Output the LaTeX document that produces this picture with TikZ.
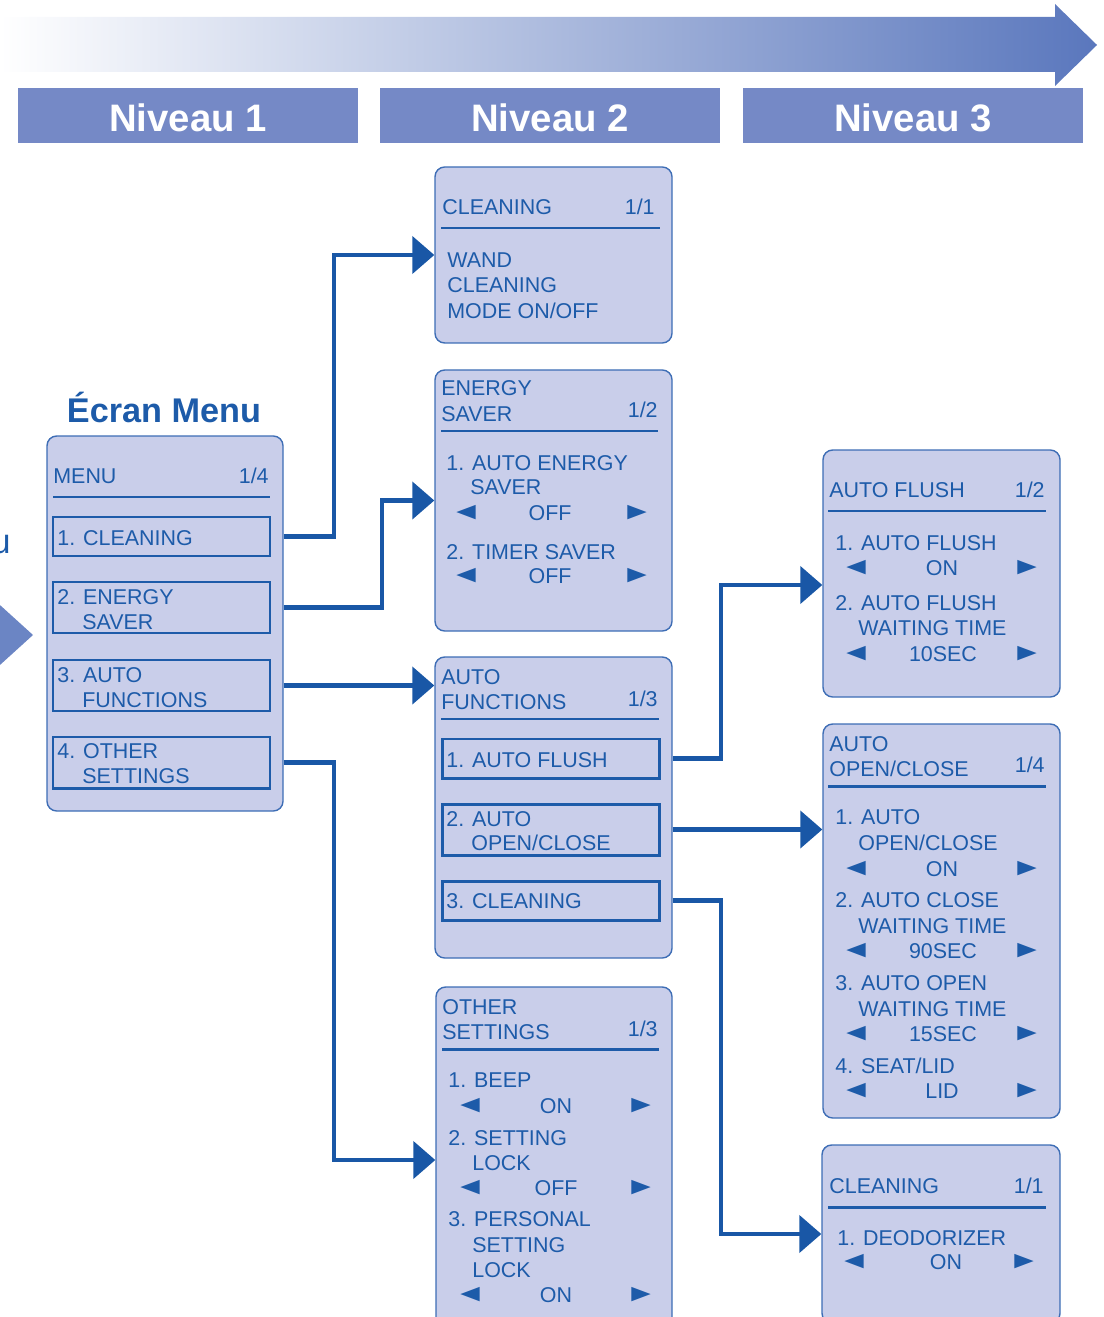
\documentclass[tikz,border=0pt]{standalone}
\usepackage{fontspec}
\setmainfont{Liberation Sans}
\newfontfamily\pointerfont{DejaVu Sans}
\usetikzlibrary{arrows.meta,fit}
\definecolor{txtblue}{HTML}{1D5BA9}
\definecolor{linkblue}{HTML}{1957A6}
\definecolor{screenfill}{HTML}{C9CEEA}
\definecolor{screenline}{HTML}{3D6DB5}
\definecolor{levelfill}{HTML}{7589C6}
\definecolor{arrowblue}{HTML}{5A77BD}
\newcommand{\tleft}{{\pointerfont\scalebox{1.2}[0.9]{\char"25C0}}}
\newcommand{\tright}{{\pointerfont\scalebox{1.2}[0.9]{\char"25B6}}}
\begin{document}
\begin{tikzpicture}[x=0.02cm,y=-0.02cm,
    screen/.style={draw=screenline,line width=0.8pt,fill=screenfill,rounded corners=5.5pt,inner sep=0pt},
    itembox/.style={draw=txtblue,line width=1.7pt,inner sep=0pt},
    level/.style={fill=levelfill,inner sep=0pt},
    leveltxt/.style={anchor=base,inner sep=0pt,text=white,font=\fontsize{21.8}{24}\selectfont\bfseries},
    rule/.style={draw=txtblue,line width=1.7pt},
    txt/.style={anchor=base west,inner sep=0pt,text=txtblue,font=\fontsize{12.2}{14}\selectfont},
    num/.style={txt,anchor=base east},
    val/.style={txt,anchor=base},
    ptr/.style={txt,anchor=base,yshift=1.3pt,font=\fontsize{12}{14}\selectfont},
    link/.style={draw=linkblue,line width=2.5pt,-{Triangle[length=0.44cm,width=0.74cm]}}]
  \clip (0,0) rectangle (1104,1317);
  % arrow and levels
  \shade[left color=white,right color=arrowblue] (0,17) -- (1055,17) -- (1055,4) -- (1097,45)
      -- (1055,86) -- (1055,72) -- (0,72) -- cycle;
  \node[level,fit={(18,88) (358,143)}] (lv1) {};
  \node[level,fit={(380,88) (720,143)}] (lv2) {};
  \node[level,fit={(743,88) (1083,143)}] (lv3) {};
  \node[leveltxt] (lv1-t) at (188,132) {Niveau 1};
  \node[leveltxt] (lv2-t) at (550,132) {Niveau 2};
  \node[leveltxt] (lv3-t) at (913,132) {Niveau 3};
  \fill[arrowblue!90!white] (-10,596) -- (33,635) -- (-10,674) -- cycle;
  \node[txt,anchor=base east,font=\fontsize{19.7}{22}\selectfont] (cut) at (11,553) {u};
  % level 1
  \node[txt,anchor=base,font=\fontsize{19.5}{22}\selectfont\bfseries] (title) at (164,422) {Écran Menu};
  \node[screen,fit={(47,436) (283,811)}] (menu) {};
  \node[txt] (menu-h) at (53,483) {MENU};
  \node[num] (menu-p) at (269,483) {1/4};
  \draw[rule] (53,497) -- (270,497);
  \node[itembox,fit={(53,517) (270,556)}] (m1) {};
  \node[itembox,fit={(53,582) (270,633)}] (m2) {};
  \node[itembox,fit={(53,660) (270,711)}] (m3) {};
  \node[itembox,fit={(53,737) (270,788)}] (m4) {};
  \node[txt] (m1-a) at (57,545) {1. CLEANING};
  \node[txt] (m2-a) at (57,604) {2. ENERGY};
  \node[txt] (m2-b) at (82,629) {SAVER};
  \node[txt] (m3-a) at (57,682) {3. AUTO};
  \node[txt] (m3-b) at (82,707) {FUNCTIONS};
  \node[txt] (m4-a) at (57,758) {4. OTHER};
  \node[txt] (m4-b) at (82,783) {SETTINGS};
  % level 2 : cleaning
  \node[screen,fit={(435,167) (672,343)}] (cl) {};
  \node[txt] (cl-h) at (442,215) {CLEANING};
  \node[num] (cl-p) at (655,215) {1/1};
  \draw[rule] (441,228) -- (660,228);
  \node[txt] (cl-a) at (447,268) {WAND};
  \node[txt] (cl-b) at (447,293) {CLEANING};
  \node[txt] (cl-c) at (447,319) {MODE ON/OFF};
  % level 2 : energy saver
  \node[screen,fit={(435,370) (672,631)}] (es) {};
  \node[txt] (es-h1) at (441,396) {ENERGY};
  \node[txt] (es-h2) at (441,421) {SAVER};
  \node[num] (es-p) at (658,418) {1/2};
  \draw[rule] (441,431) -- (658,431);
  \node[txt] (es-a) at (446,470) {1. AUTO ENERGY};
  \node[txt] (es-b) at (470,494) {SAVER};
  \node[ptr] (es-bl) at (466,520) {\tleft};
  \node[val] (es-bv) at (550,520) {OFF};
  \node[ptr] (es-br) at (637,520) {\tright};
  \node[txt] (es-c) at (446,559) {2. TIMER SAVER};
  \node[ptr] (es-cl) at (466,583) {\tleft};
  \node[val] (es-cv) at (550,583) {OFF};
  \node[ptr] (es-cr) at (637,583) {\tright};
  % level 2 : auto functions
  \node[screen,fit={(435,657) (672,958)}] (af) {};
  \node[txt] (af-h1) at (441,684) {AUTO};
  \node[txt] (af-h2) at (441,709) {FUNCTIONS};
  \node[num] (af-p) at (658,706) {1/3};
  \draw[rule] (441,719) -- (659,719);
  \node[itembox,fit={(442,739) (659,778)}] (af1) {};
  \node[itembox,fit={(442,804) (659,855)}] (af2) {};
  \node[itembox,fit={(442,881) (659,920)}] (af3) {};
  \node[txt] (af1-a) at (446,767) {1. AUTO FLUSH};
  \node[txt] (af2-a) at (446,826) {2. AUTO};
  \node[txt] (af2-b) at (471,850) {OPEN/CLOSE};
  \node[txt] (af3-a) at (446,908) {3. CLEANING};
  % level 2 : other settings
  \node[screen,fit={(436,987) (672,1333)}] (os) {};
  \node[txt] (os-h1) at (442,1014) {OTHER};
  \node[txt] (os-h2) at (442,1039) {SETTINGS};
  \node[num] (os-p) at (658,1036) {1/3};
  \draw[rule] (442,1049) -- (659,1049);
  \node[txt] (os-a) at (448,1087) {1. BEEP};
  \node[ptr] (os-al) at (470,1113) {\tleft};
  \node[val] (os-av) at (556,1113) {ON};
  \node[ptr] (os-ar) at (641,1113) {\tright};
  \node[txt] (os-b) at (448,1145) {2. SETTING};
  \node[txt] (os-b2) at (472,1170) {LOCK};
  \node[ptr] (os-bl) at (470,1195) {\tleft};
  \node[val] (os-bv) at (556,1195) {OFF};
  \node[ptr] (os-br) at (641,1195) {\tright};
  \node[txt] (os-c) at (448,1226) {3. PERSONAL};
  \node[txt] (os-c2) at (472,1252) {SETTING};
  \node[txt] (os-c3) at (472,1277) {LOCK};
  \node[ptr] (os-cl) at (470,1302) {\tleft};
  \node[val] (os-cv) at (556,1302) {ON};
  \node[ptr] (os-cr) at (641,1302) {\tright};
  % level 3 : auto flush
  \node[screen,fit={(823,450) (1060,697)}] (fl) {};
  \node[txt] (fl-h) at (829,497) {AUTO FLUSH};
  \node[num] (fl-p) at (1045,497) {1/2};
  \draw[rule] (828,511) -- (1046,511);
  \node[txt] (fl-a) at (835,550) {1. AUTO FLUSH};
  \node[ptr] (fl-al) at (856,575) {\tleft};
  \node[val] (fl-av) at (942,575) {ON};
  \node[ptr] (fl-ar) at (1027,575) {\tright};
  \node[txt] (fl-b) at (835,610) {2. AUTO FLUSH};
  \node[txt] (fl-b2) at (858,635) {WAITING TIME};
  \node[ptr] (fl-bl) at (856,661) {\tleft};
  \node[val] (fl-bv) at (943,661) {10SEC};
  \node[ptr] (fl-br) at (1027,661) {\tright};
  % level 3 : auto open/close
  \node[screen,fit={(823,724) (1060,1118)}] (oc) {};
  \node[txt] (oc-h1) at (829,751) {AUTO};
  \node[txt] (oc-h2) at (829,776) {OPEN/CLOSE};
  \node[num] (oc-p) at (1045,772) {1/4};
  \draw[rule] (828,786) -- (1046,786);
  \node[txt] (oc-a) at (835,824) {1. AUTO};
  \node[txt] (oc-a2) at (858,850) {OPEN/CLOSE};
  \node[ptr] (oc-al) at (856,876) {\tleft};
  \node[val] (oc-av) at (942,876) {ON};
  \node[ptr] (oc-ar) at (1027,876) {\tright};
  \node[txt] (oc-b) at (835,907) {2. AUTO CLOSE};
  \node[txt] (oc-b2) at (858,933) {WAITING TIME};
  \node[ptr] (oc-bl) at (856,958) {\tleft};
  \node[val] (oc-bv) at (943,958) {90SEC};
  \node[ptr] (oc-br) at (1027,958) {\tright};
  \node[txt] (oc-c) at (835,990) {3. AUTO OPEN};
  \node[txt] (oc-c2) at (858,1016) {WAITING TIME};
  \node[ptr] (oc-cl) at (856,1041) {\tleft};
  \node[val] (oc-cv) at (943,1041) {15SEC};
  \node[ptr] (oc-cr) at (1027,1041) {\tright};
  \node[txt] (oc-d) at (835,1073) {4. SEAT/LID};
  \node[ptr] (oc-dl) at (856,1098) {\tleft};
  \node[val] (oc-dv) at (942,1098) {LID};
  \node[ptr] (oc-dr) at (1027,1098) {\tright};
  % level 3 : cleaning
  \node[screen,fit={(822,1145) (1060,1323)}] (cd) {};
  \node[txt] (cd-h) at (829,1193) {CLEANING};
  \node[num] (cd-p) at (1044,1193) {1/1};
  \draw[rule] (828,1207) -- (1046,1207);
  \node[txt] (cd-a) at (837,1245) {1. DEODORIZER};
  \node[ptr] (cd-al) at (854,1269) {\tleft};
  \node[val] (cd-av) at (946,1269) {ON};
  \node[ptr] (cd-ar) at (1024,1269) {\tright};
  % links
  \draw[link] (m1.east -| menu.east) -- ++(50,0) |- (cl.west);
  \draw[link] (m2.east -| menu.east) -- ++(98,0) |- (es.west);
  \draw[link] (m3.east -| menu.east) -- (m3.east -| af.west);
  \draw[link] (m4.east -| menu.east) -- ++(50,0) |- (os.west);
  \draw[link] (af1.east -| af.east) -- ++(48,0) |- ([yshift=-0.23cm]fl.west);
  \draw[link] (af2.east -| af.east) -- (af2.east -| oc.west);
  \draw[link] (af3.east -| af.east) -- ++(48,0) |- (cd.west);
\end{tikzpicture}
\end{document}
